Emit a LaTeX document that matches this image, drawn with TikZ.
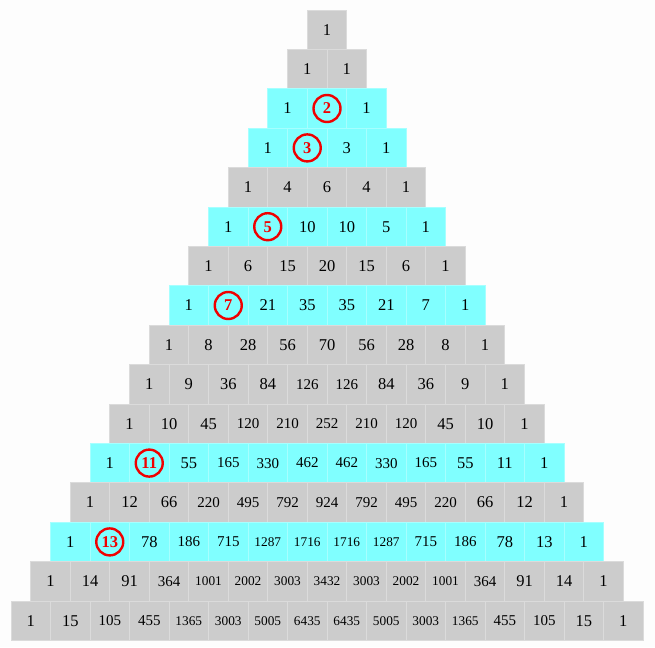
\documentclass[tikz,border=0pt]{standalone}
\usepackage{fontspec}
\setmainfont{Liberation Serif}
\usepackage{xcolor}
\definecolor{pasgray}{RGB}{204,204,204}
\definecolor{pascyan}{RGB}{128,255,255}
\definecolor{pasring}{RGB}{240,0,0}
\definecolor{pasbg}{RGB}{253,253,253}
\usetikzlibrary{positioning}
\newcommand\cellfont[1]{\ifnum#1>999 \fontsize{13.3}{14}\selectfont\else\ifnum#1>99 \fontsize{15}{16}\selectfont\else\fontsize{16.5}{17}\selectfont\fi\fi}
\newcommand\unbrace[1]{#1}

\begin{document}
\begin{tikzpicture}[
    x=1pt, y=-1pt,
    cell/.style={
      rectangle, draw=#1!70!white, line width=0.7pt, fill=#1,
      minimum width=39.5pt, minimum height=39.4pt,
      inner sep=0pt, outer sep=0pt
    },
    cell/.default=pasgray,
    ring/.style={
      circle, draw=pasring, line width=2.4pt, minimum size=27pt, inner sep=0pt,
      font=\fontsize{16.5}{17}\selectfont\bfseries, text=pasring
    }
  ]

  %% ===== page =====
  \path[use as bounding box, fill=pasbg] (0,0) rectangle (655,647);

  %% ===== rows of the triangle (row / fill / prime row / entries) =====
  \foreach \r/\fillc/\hit/\vals in {
      0/pasgray/0/{1},
      1/pasgray/0/{1,1},
      2/pascyan/1/{1,2,1},
      3/pascyan/1/{1,3,3,1},
      4/pasgray/0/{1,4,6,4,1},
      5/pascyan/1/{1,5,10,10,5,1},
      6/pasgray/0/{1,6,15,20,15,6,1},
      7/pascyan/1/{1,7,21,35,35,21,7,1},
      8/pasgray/0/{1,8,28,56,70,56,28,8,1},
      9/pasgray/0/{1,9,36,84,126,126,84,36,9,1},
      10/pasgray/0/{1,10,45,120,210,252,210,120,45,10,1},
      11/pascyan/1/{1,11,55,165,330,462,462,330,165,55,11,1},
      12/pasgray/0/{1,12,66,220,495,792,924,792,495,220,66,12,1},
      13/pascyan/1/{1,13,78,186,715,1287,1716,1716,1287,715,186,78,13,1},
      14/pasgray/0/{1,14,91,364,1001,2002,3003,3432,3003,2002,1001,364,91,14,1},
      15/pasgray/0/{1,15,105,455,1365,3003,5005,6435,6435,5005,3003,1365,455,105,15,1}
  }{
    \edef\rowvals{\expandafter\unbrace\vals}
    \foreach \v [count=\k from 0] in \rowvals {
      \pgfmathsetmacro\cx{327+(\k-\r/2)*39.5}
      \pgfmathsetmacro\cy{10+(\r+0.5)*39.4}
      \ifnum\numexpr\hit*\k\relax=1
        %% the prime in a red ring
        \node[cell=\fillc] (c-\r-\k) at (\cx,\cy) {};
        \node[ring] (ring-\r) at (c-\r-\k) {\v};
      \else
        \node[cell=\fillc, font=\cellfont{\v}] (c-\r-\k) at (\cx,\cy) {\v};
      \fi
    }
  }
\end{tikzpicture}
\end{document}
